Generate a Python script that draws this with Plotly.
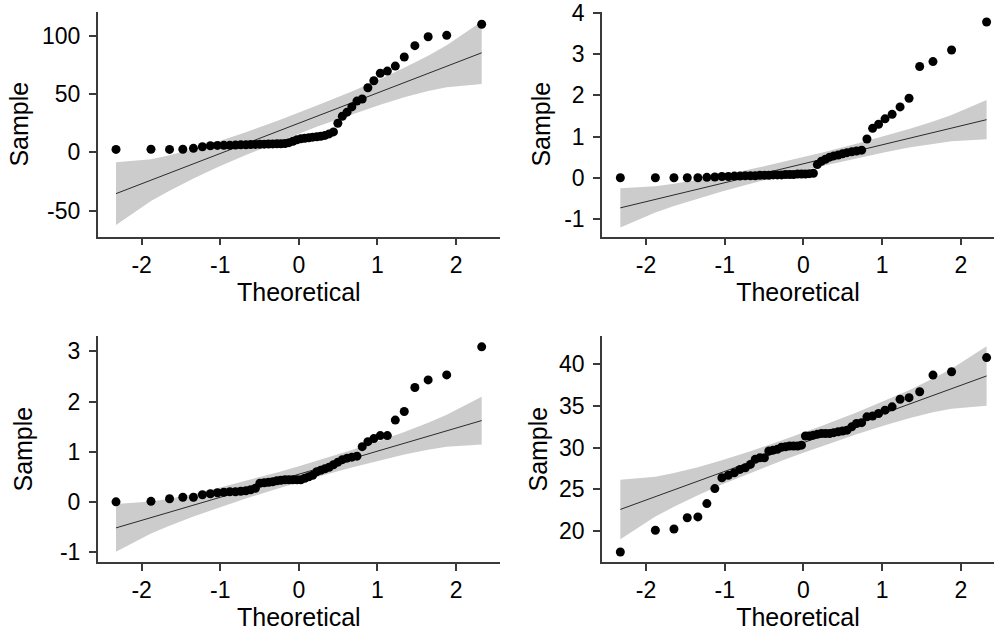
import plotly.graph_objects as go
from plotly.subplots import make_subplots

# theoretical normal quantiles of the 50 observations (same for every panel)
theoretical = [-2.326, -1.881, -1.645, -1.476, -1.341, -1.227, -1.126, -1.036, -0.954, -0.878,
               -0.806, -0.739, -0.674, -0.613, -0.553, -0.496, -0.440, -0.385, -0.332, -0.279,
               -0.228, -0.176, -0.126, -0.075, -0.025, 0.025, 0.075, 0.126, 0.176, 0.228,
               0.279, 0.332, 0.385, 0.440, 0.496, 0.553, 0.613, 0.674, 0.739, 0.806,
               0.878, 0.954, 1.036, 1.126, 1.227, 1.341, 1.476, 1.645, 1.881, 2.326]

sample_a = [2.5, 2.6, 2.5, 2.6, 3.4, 4.8, 5.6, 5.9, 6.0, 6.1,
            6.2, 6.4, 6.5, 6.7, 6.8, 6.9, 7.0, 7.1, 7.2, 7.3,
            7.4, 7.6, 8.3, 9.5, 10.8, 11.6, 12.0, 12.5, 13.0, 13.3,
            13.8, 14.5, 15.8, 17.5, 25.0, 31.0, 34.5, 39.0, 44.0, 45.8,
            55.5, 61.5, 67.9, 69.8, 74.1, 81.9, 91.6, 99.3, 100.5, 110.0]
sample_b = [0.0, 0.0, 0.0, 0.0, 0.0, 0.01, 0.02, 0.03, 0.03, 0.04,
            0.04, 0.05, 0.05, 0.05, 0.06, 0.06, 0.06, 0.07, 0.07, 0.07,
            0.08, 0.08, 0.08, 0.09, 0.09, 0.09, 0.10, 0.11, 0.32, 0.40,
            0.45, 0.50, 0.53, 0.55, 0.58, 0.61, 0.63, 0.65, 0.67, 0.94,
            1.20, 1.30, 1.43, 1.54, 1.72, 1.93, 2.70, 2.82, 3.10, 3.78]
sample_c = [0.0, 0.01, 0.06, 0.09, 0.09, 0.14, 0.16, 0.18, 0.19, 0.20,
            0.20, 0.21, 0.22, 0.24, 0.27, 0.37, 0.38, 0.39, 0.40, 0.42,
            0.43, 0.44, 0.44, 0.44, 0.44, 0.44, 0.47, 0.50, 0.53, 0.60,
            0.63, 0.66, 0.69, 0.74, 0.79, 0.84, 0.87, 0.89, 0.91, 1.10,
            1.20, 1.26, 1.32, 1.32, 1.63, 1.80, 2.28, 2.43, 2.53, 3.09]
sample_d = [17.5, 20.1, 20.26, 21.6, 21.7, 23.3, 25.1, 26.4, 26.7, 27.0,
            27.4, 27.6, 28.0, 28.6, 28.8, 28.8, 29.6, 29.7, 29.8, 30.05,
            30.1, 30.2, 30.2, 30.2, 30.3, 31.4, 31.4, 31.5, 31.6, 31.7,
            31.7, 31.7, 31.8, 31.9, 32.0, 32.1, 32.5, 32.9, 33.0, 33.7,
            33.8, 34.1, 34.5, 34.9, 35.8, 36.0, 36.7, 38.7, 39.1, 40.8]

# reference line, read at the two ends of the theoretical range
line_x = [-2.326, 2.326]
line_a = [-35.5, 85.5]
line_b = [-0.73, 1.41]
line_c = [-0.52, 1.62]
line_d = [22.6, 38.6]

# confidence band edges
band_x = [-2.326, -1.881, -1.645, -1.341, -1.036, -0.674, -0.253, 0.0,
          0.253, 0.674, 1.036, 1.341, 1.645, 1.881, 2.326]
upper_a = [-8.6, -5.9, -2.6, 2.8, 9.1, 17.3, 27.6, 34.0, 40.8, 52.3, 62.9, 72.6, 83.0, 91.9, 112.4]
lower_a = [-62.4, -41.9, -33.0, -22.6, -12.9, -2.3, 9.3, 16.0, 22.5, 32.7, 40.9, 47.2, 52.6, 55.9, 58.6]
upper_b = [-0.254, -0.206, -0.147, -0.053, 0.058, 0.204, 0.386, 0.500, 0.618, 0.824, 1.012, 1.181, 1.367, 1.524, 1.886]
lower_b = [-1.206, -0.844, -0.687, -0.501, -0.332, -0.144, 0.062, 0.180, 0.294, 0.476, 0.622, 0.733, 0.827, 0.886, 0.934]
upper_c = [-0.044, 0.004, 0.063, 0.157, 0.268, 0.414, 0.596, 0.710, 0.828, 1.034, 1.222, 1.391, 1.577, 1.734, 2.096]
lower_c = [-0.996, -0.634, -0.477, -0.291, -0.122, 0.066, 0.272, 0.390, 0.504, 0.686, 0.832, 0.943, 1.037, 1.096, 1.144]
upper_d = [26.16, 26.52, 26.96, 27.67, 28.50, 29.58, 30.94, 31.80, 32.68, 34.22, 35.62, 36.89, 38.28, 39.46, 42.16]
lower_d = [19.04, 21.74, 22.92, 24.31, 25.58, 26.98, 28.52, 29.40, 30.26, 31.62, 32.70, 33.53, 34.24, 34.68, 35.04]

x_ticks = [-2, -1, 0, 1, 2]
y_ticks_a = [-50, 0, 50, 100]
y_ticks_b = [-1, 0, 1, 2, 3, 4]
y_ticks_c = [-1, 0, 1, 2, 3]
y_ticks_d = [20, 25, 30, 35, 40]

panels = [
    dict(row=1, col=1, s=sample_a, ln=line_a, up=upper_a, lo=lower_a, yt=y_ticks_a, yr=[-72.5, 120.8], so=6),
    dict(row=1, col=2, s=sample_b, ln=line_b, up=upper_b, lo=lower_b, yt=y_ticks_b, yr=[-1.43, 4.03], so=6),
    dict(row=2, col=1, s=sample_c, ln=line_c, up=upper_c, lo=lower_c, yt=y_ticks_c, yr=[-1.2, 3.3], so=20),
    dict(row=2, col=2, s=sample_d, ln=line_d, up=upper_d, lo=lower_d, yt=y_ticks_d, yr=[16.3, 43.35], so=4),
]

FONT = "Liberation Sans, Arial, sans-serif"
AX = "#3a3a3a"

fig = make_subplots(rows=2, cols=2)

for p in panels:
    r, c = p["row"], p["col"]
    # band polygon
    fig.add_trace(go.Scatter(x=band_x + band_x[::-1], y=p["up"] + p["lo"][::-1],
                             fill="toself", fillcolor="rgb(204,204,204)",
                             line=dict(width=0), mode="lines", hoverinfo="skip"),
                  row=r, col=c)
    fig.add_trace(go.Scatter(x=line_x, y=p["ln"], mode="lines",
                             line=dict(color="black", width=0.8)),
                  row=r, col=c)
    fig.add_trace(go.Scatter(x=theoretical, y=p["s"], mode="markers",
                             marker=dict(color="black", size=9), cliponaxis=False),
                  row=r, col=c)
    xr = [-2.559, 2.559] if c == 1 else [-2.559, 2.42]
    fig.update_xaxes(range=xr, tickvals=x_ticks, ticktext=[str(v) for v in x_ticks],
                     title_text="Theoretical", row=r, col=c)
    fig.update_yaxes(range=p["yr"], tickvals=p["yt"], ticktext=[str(v) for v in p["yt"]],
                     title_text="Sample", title_standoff=p["so"], row=r, col=c)

fig.update_xaxes(showgrid=False, zeroline=False, showline=True, linecolor=AX, linewidth=1.5,
                 ticks="outside", ticklen=7, tickwidth=1.5, tickcolor=AX,
                 ticklabeloverflow="allow",
                 tickfont=dict(family=FONT, size=23, color="black"),
                 title_font=dict(family=FONT, size=25, color="black"),
                 title_standoff=6, automargin=False)
fig.update_yaxes(showgrid=False, zeroline=False, showline=True, linecolor=AX, linewidth=1.5,
                 ticks="outside", ticklen=7, tickwidth=1.5, tickcolor=AX,
                 ticklabelstandoff=4, ticklabeloverflow="allow",
                 tickfont=dict(family=FONT, size=23, color="black"),
                 title_font=dict(family=FONT, size=25, color="black"),
                 automargin=False)

W, H = 994, 636
xl = [97.7 / W, 500 / W]
xr_ = [602 / W, 1.0]
yt = [(H - 236.7) / H, (H - 11.7) / H]
yb = [(H - 562) / H, (H - 336.3) / H]
fig.update_layout(
    xaxis=dict(domain=xl), xaxis2=dict(domain=xr_),
    xaxis3=dict(domain=xl), xaxis4=dict(domain=xr_),
    yaxis=dict(domain=yt), yaxis2=dict(domain=yt),
    yaxis3=dict(domain=yb), yaxis4=dict(domain=yb),
    width=W, height=H, margin=dict(l=0, r=0, t=0, b=0),
    plot_bgcolor="white", paper_bgcolor="white",
    showlegend=False, font=dict(family=FONT),
)

# drop the browser's default page margin so the figure sits at the top-left corner
fig.write_html("out.html", config={"displayModeBar": False},
               post_script="document.body.style.margin='0';")
